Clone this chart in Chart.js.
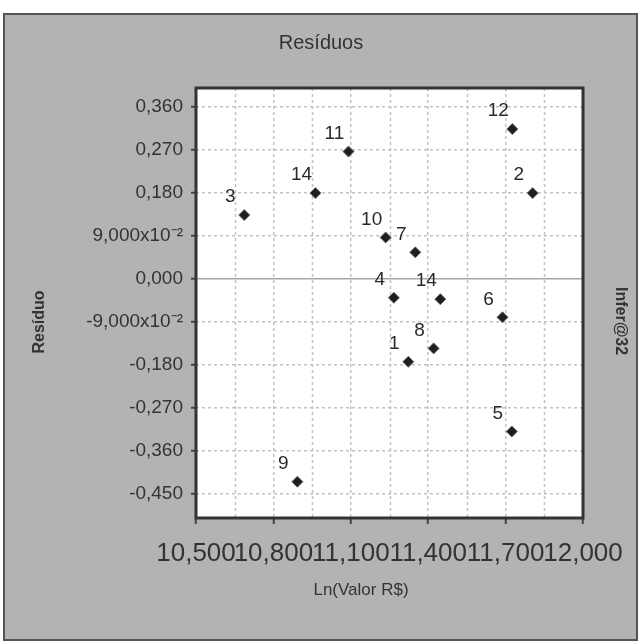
<!DOCTYPE html>
<html>
<head>
<meta charset="utf-8">
<script src="https://cdn.jsdelivr.net/npm/chart.js@4"></script>
<style>
  html, body { margin: 0; padding: 0; background: #fff; }
  #wrap { width: 641px; height: 643px; }
</style>
</head>
<body>
<div id="wrap"><canvas id="residuos" width="641" height="643"></canvas></div>
<script>
const pointLabels = ['12', '11', '14', '3', '2', '10', '7', '4', '14', '6', '8', '1', '5', '9'];
const lnValor = [11.726, 11.091, 10.963, 10.687, 11.805, 11.235, 11.350, 11.267, 11.447, 11.688, 11.421, 11.323, 11.724, 10.893];
const residuo = [0.314, 0.267, 0.180, 0.134, 0.180, 0.087, 0.056, -0.039, -0.042, -0.080, -0.145, -0.173, -0.319, -0.424];

const xTicks = [10.5, 10.8, 11.1, 11.4, 11.7, 12.0];
const xGrid = [10.65, 10.95, 11.25, 11.55, 11.85];
const yTicks = [-0.45, -0.36, -0.27, -0.18, -0.09, 0, 0.09, 0.18, 0.27, 0.36];
const yTickLabels = ['-0,450', '-0,360', '-0,270', '-0,180', '-9,000x10\u207B\u00B2', '0,000',
                     '9,000x10\u207B\u00B2', '0,180', '0,270', '0,360'];

const points = lnValor.map((v, i) => ({ x: v, y: residuo[i] }));
const FONT = '"Liberation Sans", Arial, sans-serif';
const GRID = '#c2c2c2';

// gray panel behind everything, white plot area with dark frame
const panel = {
    id: 'panel',
    beforeDraw(chart) {
        const ctx = chart.ctx;
        const a = chart.chartArea;
        ctx.save();
        ctx.fillStyle = '#b3b3b3';
        ctx.fillRect(3, 13, 635, 628);
        ctx.strokeStyle = '#555';
        ctx.lineWidth = 2;
        ctx.strokeRect(4, 14, 633, 626);
        ctx.fillStyle = '#ffffff';
        ctx.fillRect(a.left, a.top, a.right - a.left, a.bottom - a.top);
        ctx.restore();
    },
    beforeDatasetsDraw(chart) {
        // minor vertical dashed lines halfway between the x ticks
        const ctx = chart.ctx;
        const a = chart.chartArea;
        const xs = chart.scales.x;
        ctx.save();
        ctx.strokeStyle = GRID;
        ctx.lineWidth = 1.5;
        ctx.setLineDash([3, 3]);
        xGrid.forEach(v => {
            const px = Math.round(xs.getPixelForValue(v)) + 0.5;
            ctx.beginPath();
            ctx.moveTo(px, a.top);
            ctx.lineTo(px, a.bottom);
            ctx.stroke();
        });
        ctx.restore();
    },
    afterDraw(chart) {
        const ctx = chart.ctx;
        const a = chart.chartArea;
        ctx.save();
        ctx.strokeStyle = '#333';
        ctx.lineWidth = 3;
        ctx.strokeRect(a.left, a.top, a.right - a.left, a.bottom - a.top);

        // titles
        ctx.fillStyle = '#333';
        ctx.textAlign = 'center';
        ctx.textBaseline = 'middle';
        ctx.font = '20px ' + FONT;
        ctx.fillText('Resíduos', 321, 43);
        ctx.font = '17px ' + FONT;
        ctx.fillText('Ln(Valor R$)', 361, 590);
        ctx.font = 'bold 16px ' + FONT;
        ctx.save();
        ctx.translate(40, 322);
        ctx.rotate(-Math.PI / 2);
        ctx.fillText('Resíduo', 0, 0);
        ctx.restore();
        ctx.save();
        ctx.translate(620, 321);
        ctx.rotate(Math.PI / 2);
        ctx.fillText('Infer@32', 0, 0);
        ctx.restore();
        ctx.restore();
    }
};

// number of each observation, up and to the left of its point
const obsLabels = {
    id: 'obsLabels',
    afterDatasetsDraw(chart) {
        const ctx = chart.ctx;
        const meta = chart.getDatasetMeta(0);
        ctx.save();
        ctx.font = '19px ' + FONT;
        ctx.fillStyle = '#2a2a2a';
        ctx.textAlign = 'center';
        ctx.textBaseline = 'middle';
        meta.data.forEach((el, i) => {
            ctx.fillText(pointLabels[i], el.x - 14, el.y - 18);
        });
        ctx.restore();
    }
};

new Chart(document.getElementById('residuos'), {
    type: 'scatter',
    data: {
        datasets: [{
            label: 'Resíduo',
            data: points,
            pointStyle: 'rectRot',
            pointRadius: 5.5,
            backgroundColor: '#1e1e1e',
            borderColor: '#666',
            borderWidth: 1
        }]
    },
    options: {
        responsive: false,
        animation: false,
        layout: { padding: { left: 4, right: 58, top: 88, bottom: 3 } },
        plugins: {
            legend: { display: false },
            tooltip: { enabled: false },
            title: { display: false }
        },
        scales: {
            x: {
                type: 'linear',
                min: 10.5,
                max: 12.0,
                afterBuildTicks: s => { s.ticks = xTicks.map(v => ({ value: v })); },
                afterFit: s => { s.height = 122; },
                ticks: {
                    autoSkip: false,
                    maxRotation: 0,
                    padding: 14,
                    color: '#333',
                    font: { family: FONT, size: 26 },
                    callback: v => v.toFixed(3).replace('.', ',')
                },
                grid: {
                    color: GRID,
                    lineWidth: 1.5,
                    tickLength: 6,
                    tickColor: '#444',
                    tickWidth: 2
                },
                border: { display: false, dash: [3, 3] }
            },
            y: {
                type: 'linear',
                min: -0.5,
                max: 0.4,
                afterBuildTicks: s => { s.ticks = yTicks.map(v => ({ value: v })); },
                afterFit: s => { s.width = 192; },
                ticks: {
                    autoSkip: false,
                    padding: 8,
                    color: '#333',
                    font: { family: FONT, size: 19 },
                    callback: (v, i) => yTickLabels[i]
                },
                grid: {
                    color: ctx => (ctx.tick && ctx.tick.value === 0) ? '#a8a8a8' : GRID,
                    lineWidth: 1.5,
                    tickLength: 5,
                    tickColor: '#444',
                    tickWidth: 2
                },
                border: {
                    display: false,
                    dash: ctx => (ctx.tick && ctx.tick.value === 0) ? [] : [3, 3]
                }
            }
        }
    },
    plugins: [panel, obsLabels]
});
</script>
</body>
</html>
